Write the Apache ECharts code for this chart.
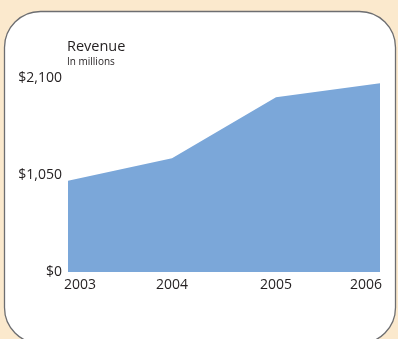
<!DOCTYPE html>
<html>
<head>
<meta charset="utf-8">
<script src="https://cdn.jsdelivr.net/npm/echarts@6/dist/echarts.min.js"></script>
<style>
  html, body { margin: 0; padding: 0; background: #fbe9cd; }
  #main { width: 398px; height: 339px; }
</style>
</head>
<body>
<div id="main"></div>
<script>
// Revenue, in millions
const years = ['2003', '2004', '2005', '2006']
const revenue = [988, 1231, 1891, 2043]
const yTicks = [0, 1050, 2100]

const font = '"Open Sans", "Noto Sans", sans-serif'
const ink = '#231f20'

function money (v) {
  return '$' + String(v).replace(/\B(?=(\d{3})+(?!\d))/g, ',')
}

let myChart = echarts.init(document.getElementById('main'))
let options = {
  backgroundColor: '#fbe9cd',
  animation: false,
  graphic: [{
    type: 'rect',
    z: -10,
    shape: { x: 4.5, y: 11.5, width: 391, height: 332, r: 36 },
    style: { fill: '#ffffff', stroke: '#6d6e71', lineWidth: 1.3 }
  }],
  title: {
    text: 'Revenue',
    subtext: 'In millions',
    left: 67,
    top: 39,
    itemGap: 3,
    padding: 0,
    textStyle: { fontFamily: font, fontSize: 14.5, fontWeight: 'normal', color: ink },
    subtextStyle: { fontFamily: font, fontSize: 10, color: ink }
  },
  grid: { left: 68, right: 18, top: 78, bottom: 67 },
  xAxis: {
    type: 'category',
    boundaryGap: false,
    data: years,
    axisLine: { show: false },
    axisTick: { show: false },
    axisLabel: {
      margin: 6,
      fontFamily: font,
      fontSize: 14,
      color: ink,
      formatter: function (v, i) {
        if (i === 0) return '{first|' + v + '}'
        if (i === years.length - 1) return '{last|' + v + '}'
        return v
      },
      rich: {
        first: { fontFamily: font, fontSize: 14, color: ink, padding: [0, 0, 0, 24] },
        last: { fontFamily: font, fontSize: 14, color: ink, padding: [0, 28, 0, 0] }
      }
    }
  },
  yAxis: {
    type: 'value',
    min: yTicks[0],
    max: yTicks[yTicks.length - 1],
    interval: yTicks[1] - yTicks[0],
    splitLine: { show: false },
    axisLine: { show: false },
    axisTick: { show: false },
    axisLabel: {
      margin: 6,
      fontFamily: font,
      fontSize: 14,
      color: ink,
      formatter: money
    }
  },
  series: [{
    name: 'Revenue',
    type: 'line',
    data: revenue,
    symbol: 'none',
    lineStyle: { width: 0 },
    areaStyle: { color: '#7ba7d9', opacity: 1 }
  }]
}
myChart.setOption(options)
</script>
</body>
</html>
